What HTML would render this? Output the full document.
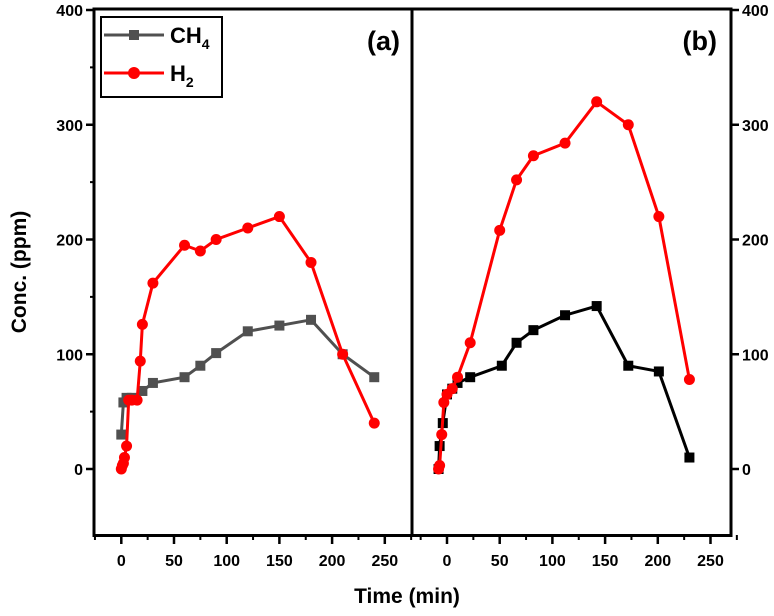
<!DOCTYPE html>
<html><head><meta charset="utf-8"><style>
body{margin:0;background:#fff;font-family:"Liberation Sans",sans-serif;}
svg text{font-family:"Liberation Sans",sans-serif;font-weight:bold;}
</style></head><body>
<svg id="c" width="774" height="611" xmlns="http://www.w3.org/2000/svg"></svg>
<script>
const yTicks=[0,100,200,300,400];
const xTicks=[0,50,100,150,200,250];
const aCH4T=[0,2,5,10,20,30,60,75,90,120,150,180,210,240];
const aCH4V=[30,58,62,62,68,75,80,90,101,120,125,130,100,80];
const aH2T=[0,1,2,3,5,7,10,15,18,20,30,60,75,90,120,150,180,210,240];
const aH2V=[0,3,5,10,20,60,60,60,94,126,162,195,190,200,210,220,180,100,40];
const bCH4T=[-8,-7,-4,0,5,10,22,52,66,82,112,142,172,201,230];
const bCH4V=[0,20,40,65,70,75,80,90,110,121,134,142,90,85,10];
const bH2T=[-8,-7,-5,-3,0,5,10,22,50,66,82,112,142,172,201,230];
const bH2V=[0,3,30,58,65,70,80,110,208,252,273,284,320,300,220,78];
const NS="http://www.w3.org/2000/svg";
const svg=document.getElementById('c');
function mk(tag,at,parent){const e=document.createElementNS(NS,tag);for(const k in at)e.setAttribute(k,at[k]);(parent||svg).appendChild(e);return e;}
const Y=v=>469-(v)*1.1475;
const XA=t=>121.3+t*1.054;
const XB=t=>447+t*1.054;
// frames
let f=mk('rect',{x:94,y:9,width:318,height:526.5,fill:'none',stroke:'#000','stroke-width':3});

f=mk('rect',{x:412,y:9,width:319,height:526.5,fill:'none',stroke:'#000','stroke-width':3});

// y ticks
yTicks.forEach(v=>{
 let l=mk('line',{x1:86,x2:94,y1:Y(v),y2:Y(v),stroke:'#000','stroke-width':2.5});
 
 let t=mk('text',{x:83,y:Y(v)+6,'text-anchor':'end','font-size':16});t.textContent=v;
 
 l=mk('line',{x1:731,x2:739,y1:Y(v),y2:Y(v),stroke:'#000','stroke-width':2.5});
 
 t=mk('text',{x:742,y:Y(v)+6,'text-anchor':'start','font-size':16});t.textContent=v;
 
});
[50,150,250,350].forEach(v=>{let l=mk('line',{x1:90,x2:94,y1:Y(v),y2:Y(v),stroke:'#000','stroke-width':2});
 });
// x ticks
[[XA,'a'],[XB,'b']].forEach(([X,p])=>{
 xTicks.forEach(v=>{
  let l=mk('line',{x1:X(v),x2:X(v),y1:535,y2:544,stroke:'#000','stroke-width':2.5});
  
  let t=mk('text',{x:X(v),y:566,'text-anchor':'middle','font-size':16});t.textContent=v;
  
  l=mk('line',{x1:X(v+25),x2:X(v+25),y1:535,y2:540,stroke:'#000','stroke-width':2});
  
 });
 let l=mk('line',{x1:X(-25),x2:X(-25),y1:535,y2:540,stroke:'#000','stroke-width':2});
 
});
function series(X,T,V,color,shape,name){
 const pts=T.map((t,i)=>X(t)+','+Y(V[i])).join(' ');
 let pl=mk('polyline',{points:pts,fill:'none',stroke:color,'stroke-width':3});
 
 T.forEach((t,i)=>{let m;
  if(shape==='sq')m=mk('rect',{x:X(t)-5,y:Y(V[i])-5,width:10,height:10,fill:color});
  else m=mk('circle',{cx:X(t),cy:Y(V[i]),r:5.5,fill:color});
  });
}
series(XA,aCH4T,aCH4V,'#505050','sq','panel-a-ch4');
series(XA,aH2T,aH2V,'#ff0000','ci','panel-a-h2');
series(XB,bCH4T,bCH4V,'#000','sq','panel-b-ch4');
series(XB,bH2T,bH2V,'#ff0000','ci','panel-b-h2');
// legend
let g=mk('g',{});
mk('rect',{x:101,y:17,width:121,height:80,fill:'#fff',stroke:'#000','stroke-width':2},g);
mk('line',{x1:104,x2:164,y1:35,y2:35,stroke:'#505050','stroke-width':3},g);
mk('rect',{x:129,y:30,width:10,height:10,fill:'#505050'},g);
let t=mk('text',{x:170,y:43,'font-size':22},g);t.innerHTML='CH<tspan font-size="14" dy="6">4</tspan>';

mk('line',{x1:104,x2:164,y1:73,y2:73,stroke:'#ff0000','stroke-width':3},g);
mk('circle',{cx:134,cy:73,r:6,fill:'#ff0000'},g);
t=mk('text',{x:170,y:81,'font-size':22},g);t.innerHTML='H<tspan font-size="14" dy="6">2</tspan>';

t=mk('text',{x:400,y:50,'text-anchor':'end','font-size':27});t.textContent='(a)';

t=mk('text',{x:717,y:50,'text-anchor':'end','font-size':27});t.textContent='(b)';

t=mk('text',{x:407,y:603,'text-anchor':'middle','font-size':21});t.textContent='Time (min)';

t=mk('text',{x:0,y:0,'text-anchor':'middle','font-size':21,transform:'translate(26,272) rotate(-90)'});t.textContent='Conc. (ppm)';

</script>
</body></html>
